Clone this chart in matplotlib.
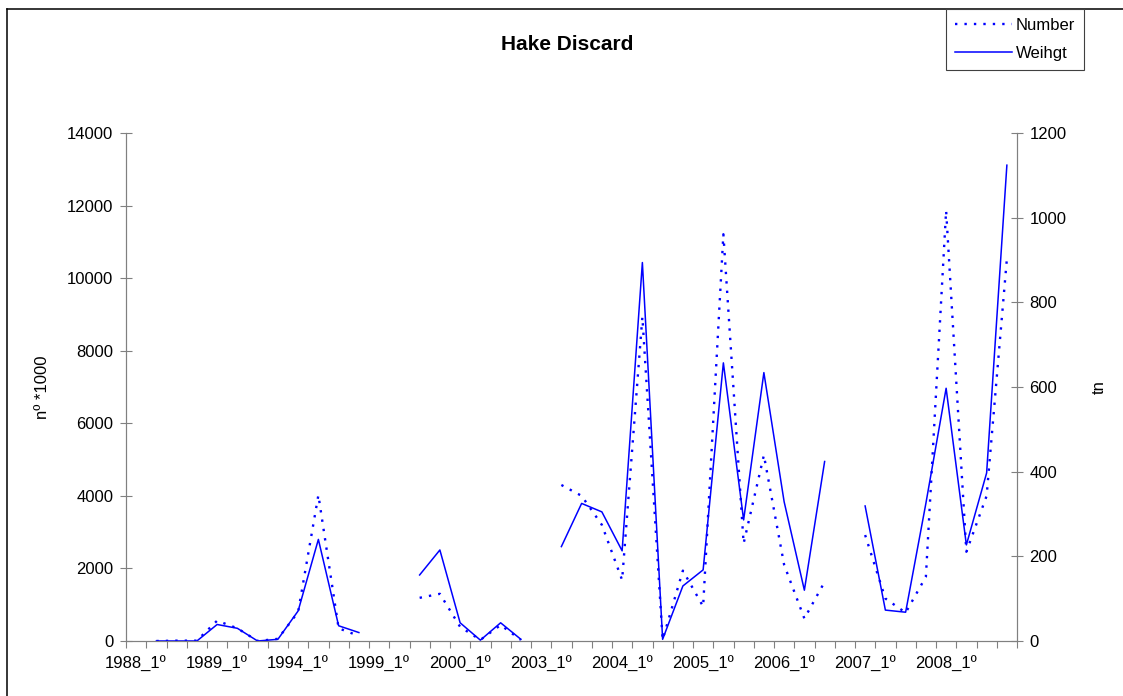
import numpy as np
import matplotlib
matplotlib.use("Agg")
import matplotlib.pyplot as plt
from matplotlib.lines import Line2D

plt.rcParams['font.family'] = ['Liberation Sans', 'DejaVu Sans']

# years with data, four quarters each
years = ['1988', '1989', '1994', '1999', '2000', '2003', '2004', '2005', '2006', '2007', '2008']
quarters = ['1º', '2º', '3º', '4º']
categories = [f'{y}_{q}' for y in years for q in quarters]
tick_labels = [f'{y}_1º' for y in years]

nan = np.nan
# discard in number (n° *1000)
number = [nan, 0, 10, 10, 560, 350, 0, 60,
          800, 4020, 350, 140, nan, nan, 1190, 1300,
          390, 30, 440, 30, nan, 4300, 4000, 3200,
          1680, 8930, 40, 1940, 950, 11210, 2690, 5120,
          2100, 620, 1630, nan, 2920, 1170, 780, 1770,
          11860, 2460, 4000, 10530]
# discard in weight (tn)
weight = [nan, 0, 0, 0, 39, 30, 0, 4,
          71, 240, 36, 20, nan, nan, 156, 215,
          43, 2, 43, 4, nan, 223, 325, 305,
          213, 894, 4, 130, 168, 657, 286, 634,
          329, 120, 424, nan, 319, 73, 68, 325,
          597, 227, 397, 1124]

W, H = 1123, 696
fs = 12
fig = plt.figure(figsize=(W / 100, H / 100), dpi=100)
ax = fig.add_axes([126 / W, 1 - 641 / H, (1017 - 126) / W, (641 - 133) / H])
ax2 = ax.twinx()

x = np.arange(len(categories))
l1, = ax.plot(x, number, color='#0000ff', lw=1.7, linestyle=(0, (1, 3)), label='Number')
l2, = ax2.plot(x, weight, color='#0000ff', lw=1.1, label='Weihgt')

ax.set_xlim(-0.5, len(categories) - 0.5)
ax.set_ylim(0, 14000)
ax2.set_ylim(0, 1200)
ax.set_yticks(np.arange(0, 14001, 2000))
ax2.set_yticks(np.arange(0, 1201, 200))

# tick marks at category boundaries, labels every 4th category
ax.set_xticks(np.arange(-0.5, len(categories), 1))
ax.set_xticklabels([])
ax.set_xticks(np.arange(0, len(categories), 4), minor=True)
ax.set_xticklabels(tick_labels, minor=True)
ax.tick_params(axis='x', which='major', direction='out', length=5, color='#808080')
ax.tick_params(axis='x', which='minor', length=0, pad=11, labelsize=fs)
ax.tick_params(axis='y', direction='inout', length=8, color='#808080', labelsize=fs, pad=5)
ax2.tick_params(axis='y', direction='inout', length=8, color='#808080', labelsize=fs, pad=5)

for a in (ax, ax2):
    a.spines['top'].set_visible(False)
    for s in ('left', 'right', 'bottom'):
        a.spines[s].set_color('#808080')

ax.set_ylabel('nº *1000', fontsize=fs, labelpad=12)
ax2.set_ylabel('tn', fontsize=fs, labelpad=18)

fig.text(567 / W, 1 - 44 / H, 'Hake Discard', ha='center', va='center',
         fontsize=15, fontweight='bold')

leg = fig.legend([l1, l2], ['Number', 'Weihgt'], loc='upper right',
                 bbox_to_anchor=(1084 / W, 1 - 9 / H), fontsize=fs,
                 handlelength=3.4, handletextpad=0.2, labelspacing=0.75,
                 borderpad=0.55, fancybox=False, framealpha=1, borderaxespad=0)
leg.get_frame().set_edgecolor('#404040')
leg.get_frame().set_linewidth(0.8)

# outer chart frame (left and top edges)
fig.add_artist(Line2D([7 / W, 7 / W], [0, 1 - 9 / H], color='black', lw=1.1))
fig.add_artist(Line2D([7 / W, 1], [1 - 9 / H, 1 - 9 / H], color='black', lw=1.1))

fig.savefig('out.png', dpi=100)
